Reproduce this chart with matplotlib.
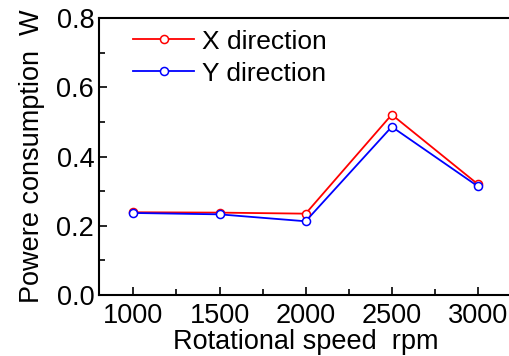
import numpy as np
import matplotlib.pyplot as plt
from matplotlib.ticker import MultipleLocator, FormatStrFormatter

plt.rcParams['font.family'] = ['Liberation Sans', 'DejaVu Sans']

speed = [1000, 1500, 2000, 2500, 3000]
power_x = [0.239, 0.238, 0.235, 0.521, 0.320]
power_y = [0.237, 0.233, 0.213, 0.486, 0.314]

fig = plt.figure(figsize=(5.09, 3.56), dpi=100)
ax = fig.add_axes([0.1945, 0.1713, 0.812, 0.778])

ax.plot(speed, power_x, color='red', lw=1.3, marker='o', ms=5.8,
        mfc='white', mec='red', mew=1.1, label='X direction')
ax.plot(speed, power_y, color='blue', lw=1.3, marker='o', ms=5.8,
        mfc='white', mec='blue', mew=1.1, label='Y direction')

ax.set_xlim(800, 3200)
ax.set_ylim(0, 0.8)
ax.set_xticks(speed)
ax.xaxis.set_minor_locator(MultipleLocator(250))
ax.yaxis.set_major_locator(MultipleLocator(0.2))
ax.yaxis.set_minor_locator(MultipleLocator(0.1))
ax.yaxis.set_major_formatter(FormatStrFormatter('%.1f'))
ax.tick_params(which='both', direction='in', labelsize=19.5, width=1.2)
ax.tick_params(which='major', length=6)
ax.tick_params(which='minor', length=4)
ax.tick_params(axis='x', pad=6)
for s in ax.spines.values():
    s.set_linewidth(1.5)

ax.set_xlabel('Rotational speed  rpm', fontsize=19.5, labelpad=0)
ax.set_ylabel('Powere consumption  W', fontsize=19.5, labelpad=8)

ax.legend(loc='upper left', bbox_to_anchor=(0.045, 1.015), frameon=False,
          fontsize=19, handlelength=2.3, handletextpad=0.3,
          labelspacing=0.3, borderaxespad=0.2)

fig.savefig('out.png', dpi=100)
